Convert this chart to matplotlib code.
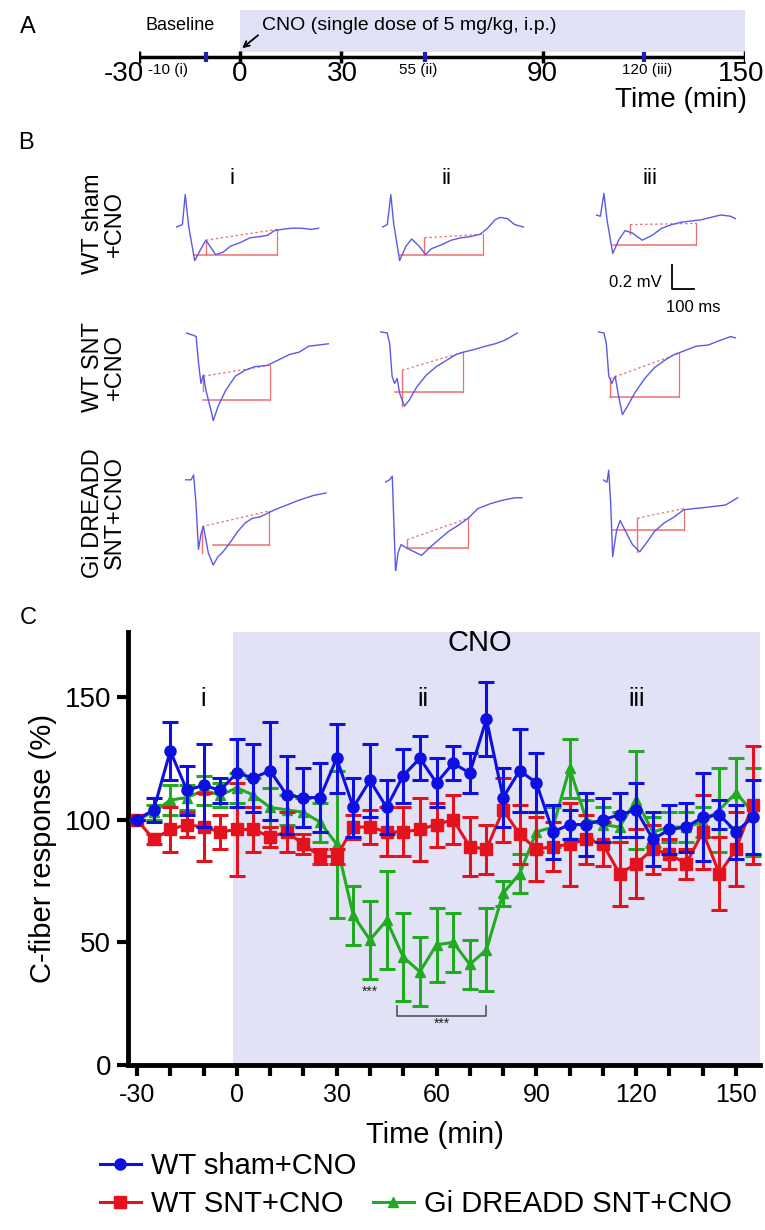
import matplotlib
matplotlib.use("Agg")
import matplotlib.pyplot as plt
from matplotlib.lines import Line2D
from matplotlib.ticker import MultipleLocator

plt.rcParams['font.family'] = ['Liberation Sans', 'DejaVu Sans']
plt.rcParams['axes.unicode_minus'] = False

# ---------- panel A : protocol timeline (min)
a_ticks = [-30, 0, 30, 90, 150]
a_tick_label_x = [-34.5, 0, 30.5, 89.7, 148.8]
a_marks = [-10, 55, 120]
a_mark_labels = ["-10 (i)", "55 (ii)", "120 (iii)"]
a_mark_label_x = [-21.5, 53, 121]

# ---------- panel B : example field potentials (t in ms, v in mV)
sham_i_t = [2, 29, 42, 58, 85, 114, 136, 180, 214, 247, 292, 336, 381, 415, 448, 481, 526, 570, 615, 648]
sham_i_v = [0, 0.02, 0.27, 0, -0.28, -0.18, -0.11, -0.23, -0.21, -0.16, -0.13, -0.09, -0.08, -0.07, -0.03, -0.02, -0.01, -0.01, -0.02, -0.01]
sham_ii_t = [2, 24, 40, 53, 80, 109, 135, 169, 198, 225, 269, 314, 358, 403, 447, 480, 514, 536, 570, 603, 643]
sham_ii_v = [0, 0.02, 0.27, 0.03, -0.28, -0.16, -0.10, -0.16, -0.23, -0.18, -0.15, -0.11, -0.09, -0.08, -0.06, -0.01, 0.06, 0.08, 0.07, 0.02, 0.0]
sham_iii_t = [0, 20, 36, 50, 76, 103, 132, 165, 210, 255, 299, 344, 388, 433, 477, 522, 566, 611, 633]
sham_iii_v = [0.1, 0.09, 0.28, 0.06, -0.22, -0.11, -0.03, -0.05, -0.11, -0.07, -0.01, 0.02, 0.04, 0.05, 0.06, 0.08, 0.1, 0.09, 0.07]
snt_i_t = [1, 35, 46, 57, 68, 79, 91, 113, 124, 146, 180, 224, 269, 313, 369, 414, 469, 514, 558, 603, 647]
snt_i_v = [0, -0.02, -0.03, -0.25, -0.42, -0.35, -0.48, -0.64, -0.73, -0.61, -0.48, -0.36, -0.31, -0.28, -0.27, -0.23, -0.18, -0.16, -0.11, -0.1, -0.09]
snt_ii_t = [0, 33, 44, 55, 66, 78, 89, 111, 133, 167, 211, 256, 300, 345, 378, 423, 479, 523, 568, 624]
snt_ii_v = [0.01, 0, -0.09, -0.36, -0.42, -0.38, -0.5, -0.61, -0.56, -0.45, -0.35, -0.28, -0.23, -0.18, -0.16, -0.14, -0.11, -0.09, -0.06, 0]
snt_iii_t = [0, 27, 38, 49, 63, 78, 94, 111, 134, 167, 212, 256, 301, 345, 390, 446, 501, 557, 602, 624]
snt_iii_v = [0.01, 0, -0.09, -0.36, -0.42, -0.36, -0.53, -0.68, -0.61, -0.5, -0.38, -0.29, -0.23, -0.18, -0.15, -0.11, -0.1, -0.06, -0.03, -0.04]
gi_i_t = [1, 28, 39, 50, 61, 73, 84, 106, 128, 150, 173, 206, 240, 273, 307, 340, 374, 407, 463, 518, 585, 641]
gi_i_v = [0.01, 0.01, 0.05, -0.19, -0.57, -0.44, -0.38, -0.6, -0.7, -0.63, -0.59, -0.51, -0.42, -0.35, -0.31, -0.3, -0.27, -0.24, -0.2, -0.16, -0.12, -0.1]
gi_ii_t = [0, 21, 33, 40, 48, 59, 73, 100, 133, 166, 200, 244, 289, 333, 378, 422, 478, 534, 590, 623]
gi_ii_v = [-0.01, 0.01, 0.04, -0.33, -0.76, -0.6, -0.53, -0.56, -0.59, -0.62, -0.56, -0.49, -0.42, -0.37, -0.31, -0.23, -0.19, -0.16, -0.14, -0.14]
gi_iii_t = [0, 18, 26, 35, 44, 62, 78, 100, 134, 167, 200, 234, 278, 323, 367, 412, 468, 512, 557, 612]
gi_iii_v = [0.01, -0.01, 0.09, -0.19, -0.63, -0.41, -0.33, -0.41, -0.53, -0.59, -0.51, -0.42, -0.35, -0.3, -0.24, -0.23, -0.22, -0.21, -0.2, -0.14]

# red measurement lines, one entry per trace (row-major)
red_t0 = [136, 193, 155, 79, 100, 55, 77, 100, 156]
red_v0 = [-0.11, -0.09, 0.02, -0.36, -0.31, -0.38, -0.38, -0.49, -0.31]
red_t1 = [459, 458, 455, 380, 378, 368, 384, 378, 367]
red_v1 = [-0.02, -0.06, 0.03, -0.27, -0.16, -0.17, -0.25, -0.31, -0.23]
red_mark_lo = [-0.23, -0.23, -0.06, -0.48, -0.61, -0.53, -0.6, -0.56, -0.59]
red_h = [-0.23, -0.23, -0.15, -0.56, -0.49, -0.53, -0.53, -0.56, -0.41]
red_h0 = [84, 80, 76, 79, 66, 55, 128, 100, 44]

row_labels = ["WT sham\n+CNO", "WT SNT\n+CNO", "Gi DREADD\nSNT+CNO"]
col_labels = ["i", "ii", "iii"]

# ---------- panel C : C-fiber response (%) vs time (min)
time = [-30, -25, -20, -15, -10, -5, 0, 5, 10, 15, 20, 25, 30, 35, 40, 45, 50, 55, 60,
        65, 70, 75, 80, 85, 90, 95, 100, 105, 110, 115, 120, 125, 130, 135, 140, 145, 150, 155]
sham = [100, 104, 128, 112, 114, 112, 119, 117, 120, 110, 109, 109, 125, 105, 116, 105, 118, 125, 115,
        123, 119, 141, 109, 120, 115, 95, 98, 98, 100, 102, 104, 92, 96, 97, 101, 102, 95, 101]
sham_err = [0, 5, 12, 10, 17, 5, 14, 14, 20, 16, 12, 14, 14, 12, 15, 11, 11, 9, 10,
            7, 8, 15, 12, 17, 12, 11, 6, 13, 9, 9, 11, 11, 10, 10, 18, 6, 11, 15]
snt = [100, 92, 96, 98, 97, 95, 96, 96, 93, 95, 90, 85, 85, 97, 97, 95, 95, 96, 98,
       100, 89, 88, 104, 94, 88, 89, 90, 92, 90, 78, 82, 88, 86, 82, 95, 78, 88, 106]
snt_err = [0, 2, 9, 5, 14, 7, 19, 9, 4, 8, 4, 3, 3, 5, 7, 10, 10, 13, 9,
           10, 12, 10, 13, 12, 13, 10, 17, 10, 9, 13, 14, 10, 6, 6, 15, 15, 15, 24]
gi = [100, 103, 108, 109, 112, 110, 113, 110, 105, 104, 103, 99, 90, 61, 51, 59, 44, 38, 49,
      50, 41, 47, 70, 78, 95, 97, 121, 100, 98, 97, 108, 95, 97, 97, 99, 104, 111, 103]
gi_err = [0, 3, 6, 5, 6, 5, 6, 7, 8, 6, 6, 8, 30, 12, 16, 20, 18, 14, 15,
          12, 10, 17, 5, 8, 8, 8, 12, 8, 7, 6, 20, 6, 6, 6, 6, 17, 14, 18]

W, H = 765, 1230
shade = '#e2e2f6'
blue, red, green = '#0d10e0', '#e3121c', '#22aa22'


def box(left, top, w, h):
    return [left / W, 1 - (top + h) / H, w / W, h / H]


def ftext(x, y, s, **kw):
    fig.text(x / W, 1 - y / H, s, **kw)


fig = plt.figure(figsize=(W / 100, H / 100), dpi=100)

# ===== A
ftext(28, 27, "A", fontsize=17, ha='center', va='center')
axA = fig.add_axes(box(139, 10, 606, 94))
axA.set_xlim(-30, 150)
axA.set_ylim(-1, 1)
axA.axis('off')
axA.axvspan(0, 150.5, ymin=0.55, ymax=1, color=shade, lw=0)
axA.plot([-30, 150], [0, 0], color='k', lw=2.5, solid_capstyle='butt')
axA.vlines(a_ticks, -0.13, 0.13, color='k', lw=2.5)
axA.vlines(a_marks, -0.1, 0.1, color='#2020b0', lw=3)
for x, v in zip(a_tick_label_x, a_ticks):
    axA.text(x, -0.36, str(v), ha='center', va='center', fontsize=20)
for x, s in zip(a_mark_label_x, a_mark_labels):
    axA.text(x, -0.27, s, ha='center', va='center', fontsize=11)
axA.text(150.5, -0.92, "Time (min)", ha='right', va='center', fontsize=20)
axA.text(-17.8, 0.68, "Baseline", ha='center', va='center', fontsize=13)
axA.text(6.5, 0.68, "CNO (single dose of 5 mg/kg, i.p.)", ha='left', va='center', fontsize=14)
axA.annotate("", xy=(0, 0.15), xytext=(6, 0.5),
             arrowprops=dict(arrowstyle='->', lw=1.3, color='k'))

# ===== B
ftext(26, 143, "B", fontsize=17, ha='center', va='center')
for x, s in zip([232, 446, 650], col_labels):
    ftext(x, 178, s, fontsize=16, ha='center', va='center')
for y, s in zip([224, 367, 513], row_labels):
    ftext(104, y, s, fontsize=17, rotation=90, ha='center', va='center',
          multialignment='center', linespacing=1.0)

b_left = [[176, 382, 596], [186, 380, 598], [185, 385, 603]]
b_base = [227, 333, 481]
trace_t = [sham_i_t, sham_ii_t, sham_iii_t, snt_i_t, snt_ii_t, snt_iii_t, gi_i_t, gi_ii_t, gi_iii_t]
trace_v = [sham_i_v, sham_ii_v, sham_iii_v, snt_i_v, snt_ii_v, snt_iii_v, gi_i_v, gi_ii_v, gi_iii_v]
cells = []
for r in range(3):
    for c in range(3):
        k = r * 3 + c
        ax = fig.add_axes(box(b_left[r][c], b_base[r] - 40, 165, 130))
        ax.set_xlim(0, 750)
        ax.set_ylim(-0.75, 40 / 120)
        ax.axis('off')
        ax.patch.set_alpha(0)
        rc = '#f07070'
        ax.plot([red_t0[k], red_t1[k]], [red_v0[k], red_v1[k]], color=rc, lw=0.9, dashes=(2, 2))
        ax.plot([red_t0[k], red_t0[k]], [red_v0[k], red_mark_lo[k]], color=rc, lw=1.0)
        ax.plot([red_h0[k], red_t1[k]], [red_h[k], red_h[k]], color=rc, lw=1.1)
        ax.plot([red_t1[k], red_t1[k]], [red_v1[k], red_h[k]], color=rc, lw=0.9)
        ax.plot(trace_t[k], trace_v[k], color='#5a5ae6', lw=1.0)
        cells.append(ax)

# scale bar: 100 ms x 0.2 mV
sb = cells[2]
sb.plot([345, 345, 445], [-0.32, -0.52, -0.52], color='k', lw=1.3)
sb.text(300, -0.46, "0.2 mV", ha='right', va='center', fontsize=12)
sb.text(441, -0.67, "100 ms", ha='center', va='center', fontsize=12)

# ===== C
ftext(28, 618, "C", fontsize=17, ha='center', va='center')
axC = fig.add_axes(box(128, 632, 632, 433))
axC.axvspan(-1, 160, color=shade, lw=0, zorder=0)

series = [(gi, gi_err, green, '^', 7), (snt, snt_err, red, 's', 8), (sham, sham_err, blue, 'o', 8)]
for z, (y, e, col, m, ms) in enumerate(series):
    axC.errorbar(time, y, yerr=e, color=col, marker=m, ms=ms, lw=2.2, elinewidth=2.2,
                 capsize=6, capthick=2.2, zorder=3 + z, clip_on=False)

axC.set_xlim(-32.7, 157.2)
axC.set_ylim(0, 176.5)
axC.spines['top'].set_visible(False)
axC.spines['right'].set_visible(False)
axC.spines['left'].set_linewidth(3.5)
axC.spines['bottom'].set_linewidth(3.5)
axC.xaxis.set_major_locator(MultipleLocator(30))
axC.xaxis.set_minor_locator(MultipleLocator(10))
axC.yaxis.set_major_locator(MultipleLocator(50))
axC.tick_params(axis='both', which='both', length=8, width=3)
axC.tick_params(axis='x', labelsize=18, pad=5)
axC.tick_params(axis='y', labelsize=20, pad=4)
axC.set_ylabel("C-fiber response (%)", fontsize=21)
axC.yaxis.set_label_coords(-0.112, 0.5)
axC.set_xlabel("Time (min)", fontsize=21)
axC.xaxis.set_label_coords(0.486, -0.129)

axC.text(73, 172, "CNO", fontsize=21, ha='center', va='center')
for x, s in zip([-10, 56, 120], col_labels):
    axC.text(x, 149, s, fontsize=18, ha='center', va='center')
axC.text(40, 30, "***", fontsize=10, ha='center', va='center', color='#222222')
axC.plot([48, 48, 75, 75], [24, 20, 20, 24], color='#555555', lw=1.2)
axC.text(61.5, 17, "***", fontsize=10, ha='center', va='center', color='#222222')

h_sham = Line2D([], [], color=blue, marker='o', ms=8, lw=2.2)
h_snt = Line2D([], [], color=red, marker='s', ms=8, lw=2.2)
h_gi = Line2D([], [], color=green, marker='^', ms=7, lw=2.2)
leg_kw = dict(loc='center left', frameon=False, fontsize=21, handlelength=1.4,
              handletextpad=0.35, borderpad=0, borderaxespad=0)
fig.legend([h_sham], ["WT sham+CNO"], bbox_to_anchor=(100 / W, 1 - 1166 / H), **leg_kw)
fig.legend([h_snt, h_gi], ["WT SNT+CNO", "Gi DREADD SNT+CNO"], ncol=2, columnspacing=1.0,
           bbox_to_anchor=(100 / W, 1 - 1204 / H), **leg_kw)

fig.savefig("out.png", dpi=100)
